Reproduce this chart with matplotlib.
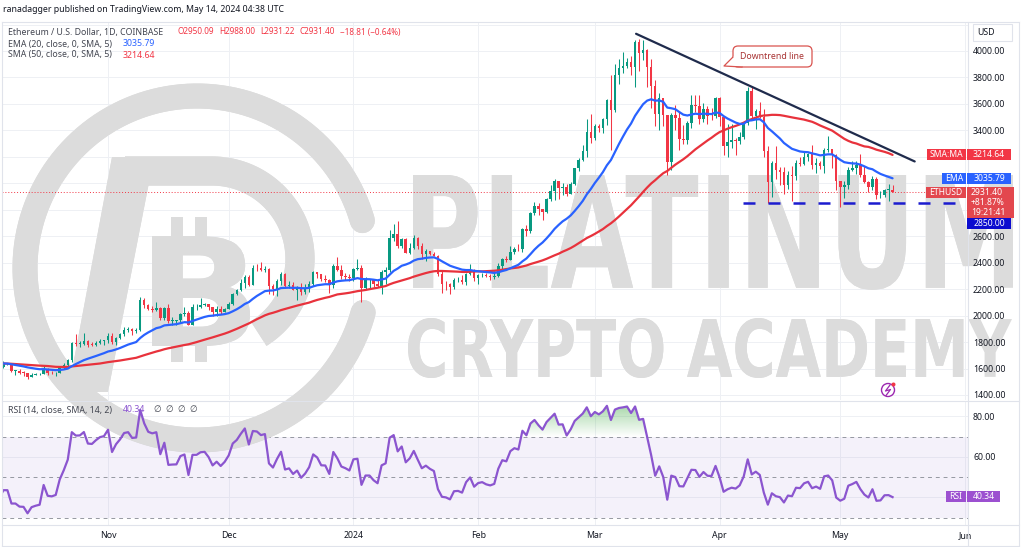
import numpy as np
import pandas as pd
import matplotlib
matplotlib.use('Agg')
import matplotlib.pyplot as plt
import matplotlib.dates as mdates
from matplotlib.lines import Line2D
from matplotlib.patches import Polygon, FancyBboxPatch, Rectangle, PathPatch, Circle
from matplotlib.textpath import TextPath
from matplotlib.font_manager import FontProperties
from matplotlib.transforms import Affine2D
from matplotlib.path import Path

plt.rcParams['font.family'] = ['Noto Sans', 'DejaVu Sans']

# ---------------- data ----------------
# closes before the visible window (Aug 16 - Oct 4 2023), used to warm up the indicators
warmup_closes = [1807, 1688, 1662, 1669, 1684, 1667, 1636, 1683, 1652, 1654, 1646, 1657, 1651, 1729, 1705, 1646,
                 1628, 1636, 1636, 1628, 1632, 1634, 1645, 1635, 1635, 1617, 1551, 1593, 1606, 1626, 1642, 1634,
                 1622, 1637, 1645, 1622, 1584, 1593, 1593, 1581, 1588, 1594, 1597, 1652, 1667, 1671,
                 1733, 1663, 1656, 1647]
warmup_start = '2023-08-16'

# visible daily candles Oct 5 2023 - May 14 2024
opens = [
    1647, 1611, 1633, 1633, 1580, 1580, 1567, 1566, 1539, 1552, 1555, 1557, 1600, 1566, 1564, 1567, 1603, 1628, 1661, 1794, 1785, 1786, 1806, 1778, 1777, 1795, 1810,
    1815, 1848, 1797, 1833, 1858, 1894, 1899, 1886, 1888, 2120, 2078, 2050, 2045, 2054, 1979, 2058, 1960, 1962, 1963, 2013, 2023, 1930, 2063, 2063, 2082, 2085, 2063, 2027, 2048, 2030,
    2052, 2088, 2166, 2193, 2243, 2293, 2233, 2360, 2358, 2344, 2353, 2225, 2203, 2261, 2316, 2220, 2228, 2196, 2217, 2177, 2201, 2239, 2326, 2311, 2273, 2272, 2231, 2378, 2346, 2302, 2293,
    2281, 2352, 2356, 2210, 2268, 2268, 2240, 2222, 2331, 2345, 2584, 2617, 2523, 2576, 2472, 2511, 2588, 2528, 2467, 2490, 2468, 2453, 2313, 2241, 2235, 2217, 2266, 2268, 2255, 2315, 2344,
    2283, 2304, 2309, 2296, 2290, 2297, 2373, 2424, 2419, 2484, 2505, 2500, 2657, 2639, 2774, 2825, 2803, 2785, 2881, 2944, 3014, 2967, 2970, 2922, 2993, 3112, 3174, 3243, 3385,
    3341, 3433, 3421, 3487, 3628, 3552, 3817, 3868, 3888, 3914, 3878, 4066, 3982, 4004, 3880, 3735, 3522, 3644, 3517, 3159, 3517, 3493, 3333, 3329, 3454, 3590, 3586, 3489, 3561, 3510, 3507,
    3647, 3503, 3279, 3311, 3330, 3317, 3353, 3455, 3695, 3505, 3545, 3503, 3241, 3008, 3157, 3101, 3084, 2985, 3066, 3055, 3153, 3147, 3201, 3218, 3140, 3156, 3130, 3252, 3260, 3213,
    3014, 2972, 2988, 3102, 3117, 3136, 3064, 3006, 2974, 3036, 2910, 2913, 2949, 2950.09]
highs = [
    1656, 1656, 1640, 1636, 1591, 1596, 1579, 1568, 1566, 1566, 1566, 1630, 1605, 1584, 1570, 1620, 1640, 1673, 1797, 1858, 1810, 1866, 1812, 1802, 1806, 1826, 1819,
    1867, 1868, 1835, 1866, 1915, 1910, 1905, 1904, 2137, 2135, 2090, 2070, 2104, 2066, 2062, 2090, 1990, 1970, 2020, 2065, 2036, 2088, 2090, 2133, 2093, 2090, 2068, 2074, 2072, 2055,
    2105, 2170, 2200, 2275, 2308, 2309, 2380, 2392, 2402, 2375, 2358, 2242, 2280, 2333, 2324, 2260, 2254, 2225, 2250, 2242, 2260, 2339, 2330, 2318, 2305, 2275, 2392, 2445, 2384, 2322, 2318,
    2356, 2431, 2384, 2295, 2280, 2270, 2270, 2345, 2367, 2644, 2690, 2717, 2586, 2583, 2545, 2612, 2592, 2548, 2502, 2482, 2483, 2458, 2338, 2259, 2243, 2282, 2290, 2306, 2321, 2391, 2350,
    2311, 2325, 2325, 2311, 2340, 2396, 2436, 2448, 2524, 2518, 2538, 2665, 2685, 2780, 2860, 2848, 2809, 2890, 2985, 3033, 3017, 3000, 2996, 3010, 3115, 3190, 3287, 3487, 3522,
    3450, 3450, 3490, 3637, 3822, 3900, 3940, 3995, 3945, 3960, 4085, 4093, 4085, 4012, 3940, 3780, 3680, 3615, 3517, 3530, 3590, 3545, 3440, 3470, 3670, 3670, 3668, 3610, 3582, 3570, 3655,
    3650, 3505, 3445, 3445, 3340, 3390, 3455, 3730, 3725, 3560, 3615, 3560, 3285, 3170, 3280, 3125, 3125, 3095, 3130, 3175, 3195, 3240, 3230, 3290, 3190, 3170, 3265, 3355, 3255, 3225,
    3020, 3020, 3125, 3170, 3170, 3220, 3130, 3020, 3055, 3050, 2942, 2960, 2996, 2988.00]
lows = [
    1605, 1604, 1627, 1576, 1552, 1560, 1545, 1522, 1536, 1548, 1548, 1555, 1553, 1558, 1541, 1563, 1598, 1620, 1651, 1770, 1764, 1778, 1765, 1770, 1771, 1787, 1778,
    1790, 1788, 1776, 1823, 1846, 1874, 1854, 1870, 1881, 2054, 2040, 2026, 2033, 1968, 1964, 1944, 1931, 1930, 1955, 1995, 1930, 1931, 2046, 2056, 2072, 2040, 1996, 1999, 2015, 2024,
    2050, 2081, 2154, 2189, 2205, 2226, 2228, 2336, 2334, 2331, 2162, 2154, 2148, 2233, 2205, 2212, 2190, 2116, 2154, 2163, 2178, 2225, 2286, 2263, 2257, 2167, 2211, 2337, 2275, 2270, 2265,
    2265, 2341, 2100, 2202, 2207, 2213, 2216, 2160, 2238, 2330, 2560, 2510, 2509, 2470, 2467, 2505, 2507, 2424, 2415, 2458, 2450, 2302, 2167, 2192, 2165, 2200, 2254, 2241, 2233, 2305, 2262,
    2242, 2290, 2290, 2267, 2275, 2293, 2353, 2405, 2418, 2464, 2485, 2478, 2600, 2626, 2757, 2762, 2725, 2774, 2863, 2870, 2880, 2915, 2905, 2918, 2989, 3090, 3169, 3200, 3305,
    3330, 3389, 3380, 3440, 3250, 3538, 3752, 3830, 3874, 3820, 3729, 3845, 3935, 3730, 3568, 3430, 3400, 3430, 3060, 3100, 3400, 3250, 3295, 3300, 3420, 3542, 3450, 3465, 3450, 3480, 3490,
    3430, 3212, 3200, 3268, 3210, 3300, 3335, 3440, 3480, 3410, 3490, 3200, 2850, 2900, 3030, 2990, 2920, 2955, 2865, 3025, 3130, 3140, 3170, 3110, 3075, 3110, 3075, 3235, 3115, 2950,
    2817, 2890, 2958, 3090, 3070, 3050, 3000, 2935, 2953, 2880, 2890, 2900, 2865, 2931.22]
closes = [
    1611, 1633, 1633, 1580, 1580, 1567, 1566, 1539, 1552, 1555, 1557, 1600, 1566, 1564, 1567, 1603, 1628, 1661, 1794, 1785, 1786, 1806, 1778, 1777, 1795, 1810, 1815,
    1848, 1797, 1833, 1858, 1894, 1899, 1886, 1888, 2120, 2078, 2050, 2045, 2054, 1979, 2058, 1960, 1962, 1963, 2013, 2023, 1930, 2063, 2063, 2082, 2085, 2063, 2027, 2048, 2030, 2052,
    2088, 2166, 2193, 2243, 2293, 2233, 2360, 2358, 2344, 2353, 2225, 2203, 2261, 2316, 2220, 2228, 2196, 2217, 2177, 2201, 2239, 2326, 2311, 2273, 2272, 2231, 2378, 2346, 2302, 2293, 2281,
    2352, 2356, 2210, 2268, 2268, 2240, 2222, 2331, 2345, 2584, 2617, 2523, 2576, 2472, 2511, 2588, 2528, 2467, 2490, 2468, 2453, 2313, 2241, 2235, 2217, 2266, 2268, 2255, 2315, 2344, 2283,
    2304, 2309, 2296, 2290, 2297, 2373, 2424, 2419, 2484, 2505, 2500, 2657, 2639, 2774, 2825, 2803, 2785, 2881, 2944, 3014, 2967, 2970, 2922, 2993, 3112, 3174, 3243, 3385, 3341,
    3433, 3421, 3487, 3628, 3552, 3817, 3868, 3888, 3914, 3878, 4066, 3982, 4004, 3880, 3735, 3522, 3644, 3517, 3159, 3517, 3493, 3333, 3329, 3454, 3590, 3586, 3489, 3561, 3510, 3507, 3647,
    3503, 3279, 3311, 3330, 3317, 3353, 3455, 3695, 3505, 3545, 3503, 3241, 3008, 3157, 3101, 3084, 2985, 3066, 3055, 3153, 3147, 3201, 3218, 3140, 3156, 3130, 3252, 3260, 3213, 3014,
    2972, 2988, 3102, 3117, 3136, 3064, 3006, 2974, 3036, 2910, 2913, 2949, 2950, 2931.40]

month_ticks = ['2023-11-01', '2023-12-01', '2024-01-01', '2024-02-01', '2024-03-01',
               '2024-04-01', '2024-05-01', '2024-06-01']
month_labels = ['Nov', 'Dec', '2024', 'Feb', 'Mar', 'Apr', 'May', 'Jun']
price_ticks = [1400, 1600, 1800, 2000, 2200, 2400, 2600, 3400, 3600, 3800, 4000]
price_grid = [1400, 1600, 1800, 2000, 2200, 2400, 2600, 2800, 3000, 3200, 3400, 3600, 3800, 4000, 4200]
rsi_ticks = [60, 80]
rsi_levels = [70, 50, 30]

trend_dates = ['2024-03-11 06:00', '2024-05-19 12:00']
trend_prices = [4130, 3165]
support_dates = ['2024-04-06 17:00', '2024-05-29 19:00']
support_level = 2850.00

ohlc_text = ['O2950.09', 'H2988.00', 'L2931.22', 'C2931.40', '\u221218.81 (\u22120.64%)']
last_price = 2931.40
ema_value = 3035.79
sma_value = 3214.64
rsi_value = 40.34

# ---------------- indicators ----------------
all_close = pd.Series(warmup_closes + closes, dtype=float)
all_dates = pd.date_range(warmup_start, periods=len(all_close), freq='D')
ema = all_close.ewm(span=20, adjust=False).mean()
sma = all_close.rolling(50).mean()
delta = all_close.diff()
gain = delta.clip(lower=0).ewm(alpha=1 / 14, adjust=False).mean()
loss = (-delta.clip(upper=0)).ewm(alpha=1 / 14, adjust=False).mean()
rsi = 100 - 100 / (1 + gain / loss)

n0 = len(warmup_closes)
dates = all_dates[n0:]
x = mdates.date2num(dates)
o = np.array(opens, float); h = np.array(highs, float); l = np.array(lows, float); c = np.array(closes, float)
ema_v = ema.values[n0:]; sma_v = sma.values[n0:]; rsi_v = rsi.values[n0:]

# ---------------- figure ----------------
W, H = 1024, 547
fig = plt.figure(figsize=(W / 100, H / 100), dpi=100, facecolor='white')
PIX = Affine2D().scale(1 / W, -1 / H).translate(0, 1) + fig.transFigure


def add_ax(l_, t_, r_, b_):
    a = fig.add_axes([l_ / W, 1 - b_ / H, (r_ - l_) / W, (b_ - t_) / H])
    a.set_facecolor('none')
    for s in a.spines.values():
        s.set_visible(False)
    return a


ax = add_ax(2, 22, 968, 400)
rax = add_ax(2, 401, 968, 525)

WM = '#dcdcdc'
WM_FP = FontProperties(family='DejaVu Sans', weight='bold')


def text_path(s, x0, y0, x1, y1):
    tp = TextPath((0, 0), s, size=100, prop=WM_FP)
    bb = tp.get_extents()
    tr = Affine2D().translate(-bb.x0, -bb.y0).scale((x1 - x0) / bb.width, -(y1 - y0) / bb.height) \
        .translate(x0, y1)
    return tr.transform_path(tp)


# ---------------- watermark (drawn on the figure and above the panel backgrounds) ----------------
def watermark(add, z):
    cx, cy, rr = 197, 268, 172
    ang = np.radians(np.linspace(16, 345, 300))
    add(Line2D(cx + rr * np.cos(ang), cy - rr * np.sin(ang), transform=PIX, color=WM,
               lw=18, solid_capstyle='round', zorder=z))
    add(Polygon([(112, 157), (154, 157), (108, 392), (68, 392)], closed=True,
                transform=PIX, color=WM, lw=0, zorder=z))
    ang2 = np.radians(np.linspace(90, -58, 100))
    bx = np.concatenate([[125], 212 + 88 * np.cos(ang2)])
    by = np.concatenate([[171], 259 - 88 * np.sin(ang2)])
    add(Line2D(bx, by, transform=PIX, color=WM, lw=21, solid_capstyle='butt', zorder=z))
    add(PathPatch(text_path('B', 152, 236, 250, 346), transform=PIX, color=WM, lw=0, zorder=z))
    for (rx0, ry0, rx1, ry1) in [(171, 217, 183, 237), (195, 217, 207, 237), (171, 345, 183, 362), (195, 345, 207, 362)]:
        add(Rectangle((rx0, ry0), rx1 - rx0, ry1 - ry0, transform=PIX, color=WM, lw=0, zorder=z))
    add(PathPatch(text_path('PLATINUM', 413, 175, 1013, 290), transform=PIX, color=WM, lw=0, zorder=z))
    add(PathPatch(text_path('CRYPTO ACADEMY', 408, 318, 1012, 378), transform=PIX, color=WM, lw=0, zorder=z))


watermark(fig.add_artist, -2)
watermark(ax.add_artist, 1.8)
watermark(rax.add_artist, 1.8)

# ---------------- price panel ----------------
xlim = (mdates.date2num(pd.Timestamp('2023-10-05 15:36')), mdates.date2num(pd.Timestamp('2024-06-01 18:00')))
ax.set_xlim(*xlim)
ax.set_ylim(1362, 4219)
for v in price_grid:
    ax.axhline(v, color='#eef0f4', lw=0.7, zorder=0.5)
mt = mdates.date2num(pd.to_datetime(month_ticks))
for m in mt:
    ax.axvline(m, color='#eef0f4', lw=0.7, zorder=0.5)
    rax.axvline(m, color='#eef0f4', lw=0.7, zorder=0.5)

up = c >= o
cols = np.where(up, '#089981', '#f23645')
ax.vlines(x, l, h, colors=cols, lw=0.75, zorder=3)
ax.bar(x, np.maximum(np.abs(c - o), 5), bottom=np.minimum(o, c), width=0.62, color=cols, lw=0, zorder=4)
ax.plot(x, sma_v, color='#e8323c', lw=1.6, zorder=5, solid_capstyle='round')
ax.plot(x, ema_v, color='#2962ff', lw=1.6, zorder=5, solid_capstyle='round')
ax.axhline(last_price, color='#f23645', lw=0.7, ls=(0, (1, 2)), zorder=2)
ax.plot(pd.to_datetime(trend_dates), trend_prices, color='#1f2b4c', lw=1.6, zorder=6, solid_capstyle='round')
ax.plot(pd.to_datetime(support_dates), [support_level, support_level], color='#1c1ccf', lw=1.8,
        dashes=(4.8, 5.2), zorder=6)
ax.set_xlim(*xlim)
ax.set_ylim(1362, 4219)

ax.set_xticks([])
ax.yaxis.tick_right()
ax.set_yticks(price_ticks)
ax.set_yticklabels([f'{v:.2f}' for v in price_ticks])
ax.tick_params(axis='y', length=0, pad=3.6, labelsize=6.3, labelcolor='#131722')

# ---------------- RSI panel ----------------
rax.set_xlim(*xlim)
rax.set_ylim(26.4, 87.5)
for v in [80, 60, 40]:
    rax.axhline(v, color='#eef0f4', lw=0.7, zorder=0.5)
rax.axhspan(30, 70, color='#7e57c2', alpha=0.08, lw=0, zorder=0.6)
for v in rsi_levels:
    rax.axhline(v, color='#9598a1', lw=0.7, ls=(0, (4, 4)), zorder=1)
# overbought gradient fill
ob = rax.fill_between(x, 70, rsi_v, where=rsi_v > 70, interpolate=True, color='none', lw=0, zorder=1.4)
grad = np.zeros((64, 1, 4))
grad[:, 0, 0:3] = np.array([76, 175, 80]) / 255
grad[:, 0, 3] = np.linspace(0.0, 0.55, 64)
img = rax.imshow(grad, extent=[xlim[0], xlim[1], 70, 87.5], origin='lower', aspect='auto', zorder=1.5,
                 interpolation='bilinear')
img.set_clip_path(Path.make_compound_path(*ob.get_paths()), rax.transData)
rax.plot(x, rsi_v, color='#8b55cf', lw=1.6, zorder=3)
rax.set_xlim(*xlim)
rax.set_ylim(26.4, 87.5)
rax.yaxis.tick_right()
rax.set_yticks(rsi_ticks)
rax.set_yticklabels([f'{v:.2f}' for v in rsi_ticks])
rax.tick_params(axis='y', length=0, pad=3.6, labelsize=6.3, labelcolor='#131722')
rax.set_xticks(mt)
rax.set_xticklabels(month_labels)
rax.tick_params(axis='x', length=0, pad=4.5, labelsize=6.3, labelcolor='#131722')

# ---------------- frame lines ----------------
FR = '#e0e3eb'
for seg in [((2, 22), (1019, 22)), ((2, 22), (2, 546)), ((968, 22), (968, 546)), ((1019, 22), (1019, 546)),
            ((2, 400.5), (1019, 400.5)), ((2, 525), (1019, 525)), ((2, 546), (1019, 546))]:
    fig.add_artist(Line2D([seg[0][0], seg[1][0]], [seg[0][1], seg[1][1]], transform=PIX, color=FR, lw=0.8, zorder=1))


# ---------------- texts ----------------
def ptxt(px, py_, s, color='#131722', size=6.3, z=20, **kw):
    return fig.text(px, py_, s, transform=PIX, color=color, fontsize=size, va='center', ha=kw.pop('ha', 'left'),
                    zorder=z, **kw)


ptxt(3, 10, 'ranadagger published on TradingView.com, May 14, 2024 04:38 UTC', size=6.3)
LG = '#434651'
RED = '#f23645'
ptxt(8, 32, 'Ethereum / U.S. Dollar, 1D, COINBASE', LG)
renderer = fig.canvas.get_renderer()
xx = 178
for s in ohlc_text:
    t = ptxt(xx, 32, s, RED, size=5.9)
    xx += t.get_window_extent(renderer).width + 5
ptxt(8, 44, 'EMA (20, close, 0, SMA, 5)', LG)
ptxt(123, 44, f'{ema_value:.2f}', '#2962ff')
ptxt(8, 55, 'SMA (50, close, 0, SMA, 5)', LG)
ptxt(123, 55, f'{sma_value:.2f}', RED)
ptxt(8, 410, 'RSI (14, close, SMA, 14, 2)', LG)
ptxt(123, 410, f'{rsi_value:.2f}', '#8b55cf')
for xx in [153, 165, 177, 189]:
    fig.text(xx, 410, '\u2205', transform=PIX, color=LG, fontsize=6.3, va='center', zorder=20,
             family=['DejaVu Sans'])

# callout
fig.add_artist(FancyBboxPatch((733, 46), 79, 21, boxstyle='round,pad=0,rounding_size=5', transform=PIX,
                              facecolor='white', edgecolor='#d9534f', lw=0.9, zorder=11))
fig.add_artist(Polygon([(733.6, 56), (724, 66), (742, 66.4)], closed=True, transform=PIX, facecolor='white',
                       edgecolor='none', zorder=12))
fig.add_artist(Line2D([733, 724, 742], [57, 66, 67], transform=PIX, color='#d9534f', lw=0.9, zorder=13))
ptxt(772.5, 56.5, 'Downtrend line', '#a83232', size=6.3, ha='center')

# lightning icon
fig.add_artist(Circle((888, 390), 6.5, transform=PIX, facecolor='white', edgecolor='#9c27b0', lw=1.0, zorder=11))
fig.add_artist(Line2D([890, 885.5, 890.5, 886], [385, 391, 389.5, 395.5], transform=PIX, color='#9c27b0', lw=0.9, zorder=12))
fig.add_artist(Circle((893.5, 384.5), 2.0, transform=PIX, facecolor=RED, edgecolor='none', zorder=12))

# right axis labels
fig.canvas.draw()


def ypx(a, v):
    return H - a.transData.transform((xlim[0], v))[1]


def box(x0, x1, yc, hgt, color, text, tcol='white', size=6.2, ha='center', tx=None):
    fig.add_artist(Rectangle((x0, yc - hgt / 2), x1 - x0, hgt, transform=PIX, facecolor=color, edgecolor='none', zorder=11))
    if text:
        ptxt(tx if tx is not None else (x0 + x1) / 2, yc, text, tcol, size=size, ha=ha)


fig.add_artist(Rectangle((973, 24), 39, 17, transform=PIX, facecolor='white', edgecolor='#e0e3eb', lw=0.8, zorder=11))
ptxt(977, 32.5, 'USD', '#131722', size=6.3)

ys = ypx(ax, sma_value)
box(927, 966, ys, 11, '#f23645', 'SMA:MA')
box(967, 1011, ys, 11, '#f23645', f'{sma_value:.2f}')
ye = ypx(ax, ema_value)
box(942, 966, ye, 11, '#2962ff', 'EMA')
box(967, 1011, ye, 11, '#2962ff', f'{ema_value:.2f}')
yl = ypx(ax, last_price)
box(926, 966, yl, 11, '#e3474e', 'ETHUSD')
fig.add_artist(Rectangle((967, yl - 5.5), 47, 31, transform=PIX, facecolor='#e3474e', edgecolor='none', zorder=11))
ptxt(971, yl, f'{last_price:.2f}', 'white', size=6.2)
ptxt(971, yl + 10, '+81.87%', 'white', size=6.2)
ptxt(971, yl + 20, '19:21:41', 'white', size=6.2)
box(967, 1011, yl + 31, 11, '#0c0ccf', f'{support_level:.2f}')
yr = ypx(rax, rsi_value)
box(946, 966, yr, 11, '#9c50d0', 'RSI')
box(967, 1000, yr, 11, '#9c50d0', f'{rsi_value:.2f}')

fig.savefig('out.png', dpi=100, facecolor='white')
